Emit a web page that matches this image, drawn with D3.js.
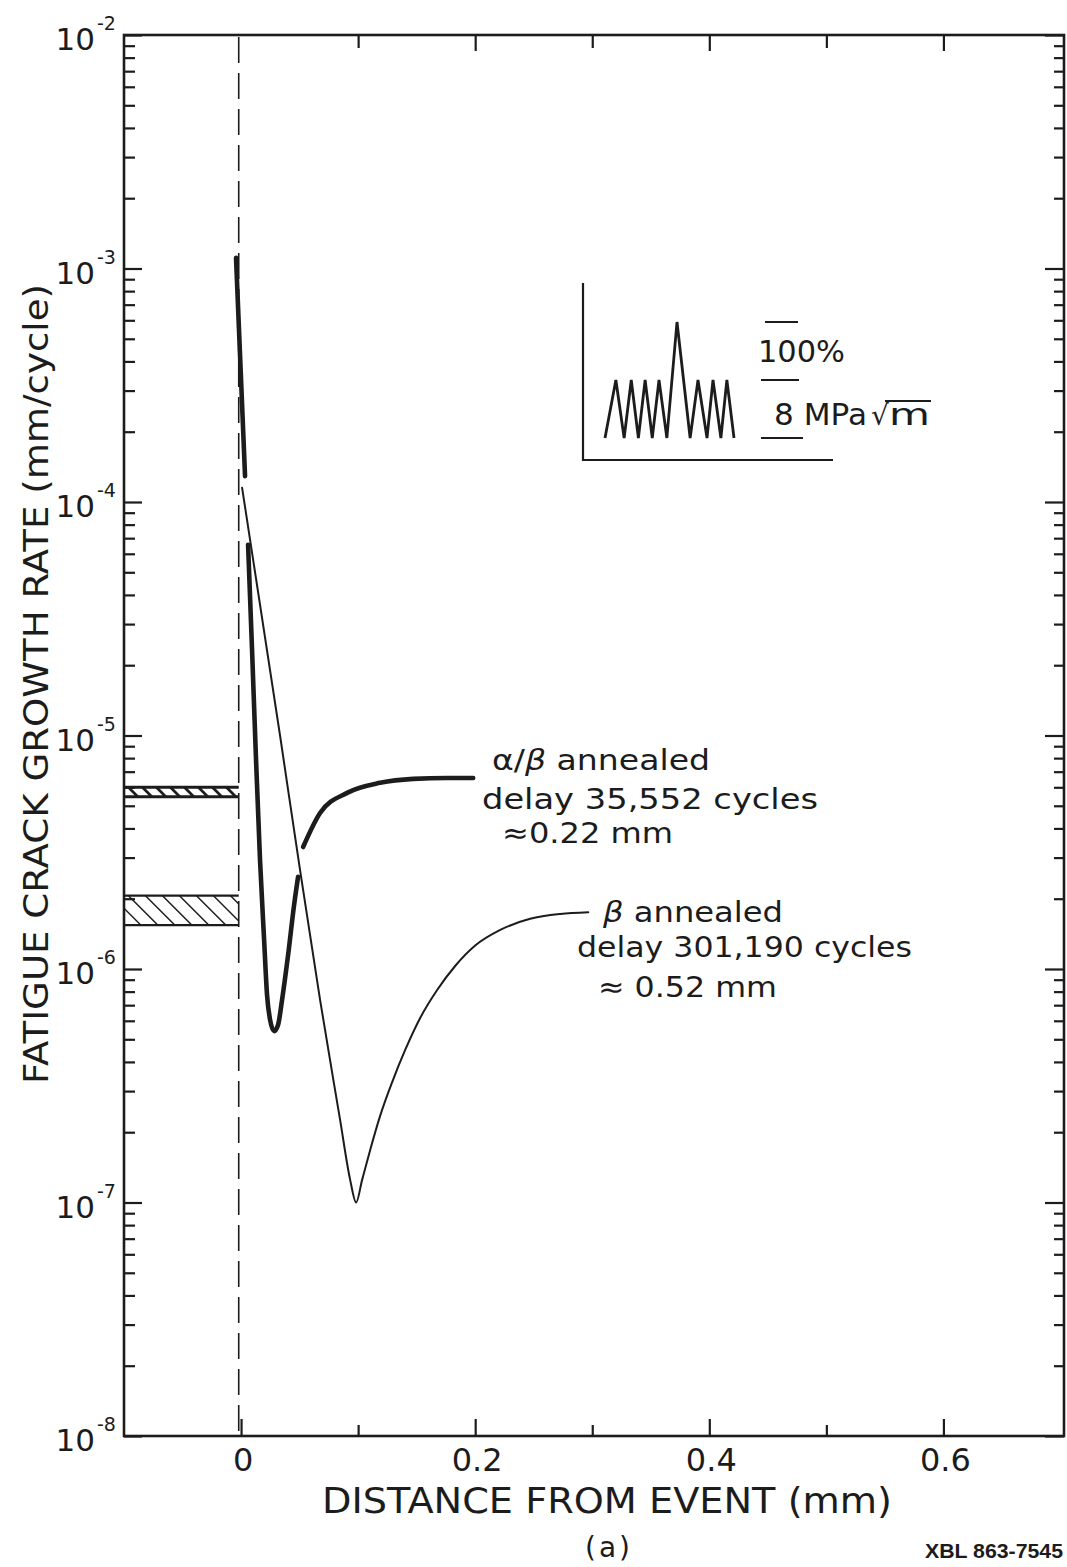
<!DOCTYPE html>
<html><head><meta charset="utf-8">
<script src="https://cdn.jsdelivr.net/npm/d3@7"></script>
<style>body{margin:0;background:#fff} svg{display:block}</style>
</head><body>
<svg id="c" width="1067" height="1567"></svg>
<script>
// ---------- data ----------
const xDomain = [-0.1, 0.703];
const yDomain = [1e-8, 1e-2];
const xMajorTicks = [0, 0.2, 0.4, 0.6];
const xMajorLabels = ["0", "0.2", "0.4", "0.6"];
const xMinorTicks = [0.1, 0.3, 0.5];
const yDecadeExponents = [-2, -3, -4, -5, -6, -7, -8];
const eventX = -0.002;

// alpha/beta annealed (thick curve), three drawn pieces
const alphaBetaSpike = [[-0.0043, 1.11e-3], [0.0034, 1.29e-4]];
const alphaBetaDip = [
  [0.0060, 6.55e-5], [0.0094, 2.32e-5], [0.0128, 7.85e-6], [0.0162, 2.93e-6],
  [0.0197, 1.33e-6], [0.0222, 7.74e-7], [0.0248, 6.05e-7], [0.0282, 5.42e-7],
  [0.0316, 5.76e-7], [0.0350, 7.36e-7], [0.0402, 1.15e-6], [0.0453, 1.88e-6],
  [0.0487, 2.48e-6]
];
const alphaBetaRecovery = [
  [0.0530, 3.33e-6], [0.0675, 4.66e-6], [0.0906, 5.68e-6], [0.1188, 6.27e-6],
  [0.1470, 6.52e-6], [0.1761, 6.58e-6], [0.1983, 6.58e-6]
];
// beta annealed (thin curve)
const betaCurve = [
  [0.0009, 1.15e-4], [0.0333, 1.0e-5], [0.0504, 2.65e-6], [0.0675, 7.37e-7],
  [0.0846, 2.26e-7], [0.0932, 1.25e-7], [0.0983, 1.0e-7], [0.1034, 1.25e-7],
  [0.1103, 1.68e-7], [0.1188, 2.35e-7], [0.1291, 3.28e-7], [0.1402, 4.50e-7],
  [0.1530, 6.17e-7], [0.1675, 8.13e-7], [0.1829, 1.03e-6], [0.2000, 1.26e-6],
  [0.2214, 1.47e-6], [0.2470, 1.64e-6], [0.2726, 1.72e-6], [0.2966, 1.75e-6]
];
// baseline (pre-event) scatter bands
const alphaBetaBand = [5.46e-6, 6.0e-6];
const betaBand = [1.54e-6, 2.06e-6];

// inset load spectrum (schematic): time units vs relative load
const insetTime = [0, 1.45, 2.55, 3.5, 4.45, 5.35, 6.3, 7.2, 8.25, 9.6, 11.35, 12.4, 13.6, 14.4, 15.45, 16.25, 17.2];
const insetLoad = [0, 1, 0, 1, 0, 1, 0, 1, 0, 2, 0, 1, 0, 1, 0, 1, 0];

// ---------- drawing ----------
const ink = "#1c1c1c";
const font = "DejaVu Sans, sans-serif";
const svg = d3.select("#c");
const defs = svg.append("defs");
const P = {left: 124, right: 1064, top: 35, bottom: 1436};
const x = d3.scaleLinear().domain(xDomain).range([P.left, P.right]);
const y = d3.scaleLog().domain(yDomain).range([P.bottom, P.top]);

function styleAxis(g, w) {
  g.select(".domain").remove();
  g.selectAll(".tick line").attr("stroke", ink).attr("stroke-width", w);
}

// axes ticks (inward)
const decades = yDecadeExponents.map(e => Math.pow(10, e));
const minorY = y.ticks().filter(v => Math.abs(Math.log10(v) - Math.round(Math.log10(v))) > 1e-6);

svg.append("g").attr("transform", `translate(0,${P.bottom})`)
  .call(d3.axisBottom(x).tickValues(xMajorTicks).tickSize(-17).tickFormat(""))
  .call(g => styleAxis(g, 2.2));
svg.append("g").attr("transform", `translate(0,${P.bottom})`)
  .call(d3.axisBottom(x).tickValues(xMinorTicks).tickSize(-11).tickFormat(""))
  .call(g => styleAxis(g, 2.2));
svg.append("g").attr("transform", `translate(0,${P.top})`)
  .call(d3.axisTop(x).tickValues(xMajorTicks.filter(v => v > 0)).tickSize(-16).tickFormat(""))
  .call(g => styleAxis(g, 2.2));
svg.append("g").attr("transform", `translate(0,${P.top})`)
  .call(d3.axisTop(x).tickValues(xMinorTicks).tickSize(-13).tickFormat(""))
  .call(g => styleAxis(g, 2.2));
svg.append("g").attr("transform", `translate(${P.left},0)`)
  .call(d3.axisLeft(y).tickValues(decades).tickSize(-18).tickFormat(""))
  .call(g => styleAxis(g, 2.2));
svg.append("g").attr("transform", `translate(${P.left},0)`)
  .call(d3.axisLeft(y).tickValues(minorY).tickSize(-11).tickFormat(""))
  .call(g => styleAxis(g, 2.2));
svg.append("g").attr("transform", `translate(${P.right},0)`)
  .call(d3.axisRight(y).tickValues(decades).tickSize(-19).tickFormat(""))
  .call(g => styleAxis(g, 2.2));
svg.append("g").attr("transform", `translate(${P.right},0)`)
  .call(d3.axisRight(y).tickValues(minorY).tickSize(-10).tickFormat(""))
  .call(g => styleAxis(g, 2.2));

// frame
svg.append("rect").attr("x", P.left).attr("y", P.top)
  .attr("width", P.right - P.left).attr("height", P.bottom - P.top)
  .attr("fill", "none").attr("stroke", ink).attr("stroke-width", 2.6);

// x tick labels
svg.append("g").selectAll("text").data(xMajorTicks).join("text")
  .attr("x", d => x(d) + 2).attr("y", 1471)
  .attr("text-anchor", "middle").attr("font-family", font).attr("font-size", 32)
  .attr("fill", ink).text((d, i) => xMajorLabels[i]);

// y tick labels 10^n
const yl = svg.append("g").attr("font-family", font).attr("fill", ink);
yl.selectAll("text.base").data(yDecadeExponents).join("text").attr("class", "base")
  .attr("x", 95).attr("y", d => y(Math.pow(10, d)) + 15)
  .attr("text-anchor", "end").attr("font-size", 31).text("10");
yl.selectAll("text.exp").data(yDecadeExponents).join("text").attr("class", "exp")
  .attr("x", 97).attr("y", d => y(Math.pow(10, d)) - 5)
  .attr("font-size", 19).text(d => "-" + Math.abs(d));

// axis titles
svg.append("text").attr("x", 322).attr("y", 1513)
  .attr("font-family", font).attr("font-size", 35).attr("fill", ink)
  .attr("textLength", 570).attr("lengthAdjust", "spacingAndGlyphs")
  .text("DISTANCE  FROM  EVENT (mm)");
svg.append("text").attr("transform", "translate(48,684) rotate(-90)")
  .attr("text-anchor", "middle").attr("font-family", font).attr("font-size", 34).attr("fill", ink)
  .attr("textLength", 800).attr("lengthAdjust", "spacingAndGlyphs")
  .text("FATIGUE CRACK GROWTH RATE (mm/cycle)");
svg.append("text").attr("x", 585).attr("y", 1557)
  .attr("font-family", font).attr("font-size", 28).attr("fill", ink)
  .attr("letter-spacing", 3).text("(a)");
svg.append("text").attr("x", 925).attr("y", 1558)
  .attr("font-family", "Liberation Sans, Arial, sans-serif").attr("font-weight", "bold")
  .attr("font-size", 21).attr("fill", ink)
  .attr("textLength", 138).attr("lengthAdjust", "spacingAndGlyphs").text("XBL 863-7545");

// event dashed line
svg.append("line").attr("x1", x(eventX)).attr("x2", x(eventX))
  .attr("y1", P.top + 2).attr("y2", P.bottom)
  .attr("stroke", ink).attr("stroke-width", 1.6).attr("stroke-dasharray", "26,10");

// hatched baseline bands
function band(range, id, spacing, hatchW, edgeW) {
  const x0 = x(xDomain[0]), x1 = x(eventX);
  const yTop = y(range[1]), yBot = y(range[0]);
  const h = yBot - yTop;
  defs.append("clipPath").attr("id", id).append("rect")
    .attr("x", x0).attr("y", yTop).attr("width", x1 - x0).attr("height", h);
  const g = svg.append("g").attr("clip-path", `url(#${id})`);
  const starts = d3.range(x0 - h, x1 + h, spacing);
  g.selectAll("line").data(starts).join("line")
    .attr("x1", d => d).attr("y1", yTop).attr("x2", d => d + h).attr("y2", yBot)
    .attr("stroke", ink).attr("stroke-width", hatchW);
  svg.append("g").selectAll("line").data([yTop, yBot]).join("line")
    .attr("x1", x0).attr("x2", x1).attr("y1", d => d).attr("y2", d => d)
    .attr("stroke", ink).attr("stroke-width", edgeW);
}
band(alphaBetaBand, "clipAB", 14, 2.8, 3);
band(betaBand, "clipB", 17, 1.5, 2.2);

// curves
const line = d3.line().x(d => x(d[0])).y(d => y(d[1])).curve(d3.curveMonotoneX);
const curves = [
  {d: alphaBetaSpike, w: 4.6},
  {d: alphaBetaDip, w: 4.6},
  {d: alphaBetaRecovery, w: 4.6},
  {d: betaCurve, w: 2.0}
];
svg.append("g").selectAll("path").data(curves).join("path")
  .attr("d", c => line(c.d)).attr("fill", "none").attr("stroke", ink)
  .attr("stroke-width", c => c.w).attr("stroke-linecap", "round").attr("stroke-linejoin", "round");

// annotations
function label(xp, yp, len, parts) {
  const t = svg.append("text").attr("x", xp).attr("y", yp)
    .attr("font-family", font).attr("font-size", 29).attr("fill", ink)
    .attr("textLength", len).attr("lengthAdjust", "spacingAndGlyphs");
  parts.forEach(p => t.append("tspan").attr("font-style", p[1] ? "italic" : null).text(p[0]));
}
label(492, 770, 218, [["α/", false], ["β", true], [" annealed", false]]);
label(482, 809, 336, [["delay 35,552 cycles", false]]);
label(502, 843, 171, [["≈0.22 mm", false]]);
label(603, 922, 180, [["β", true], [" annealed", false]]);
label(577, 957, 335, [["delay 301,190 cycles", false]]);
label(598, 997, 179, [["≈ 0.52 mm", false]]);

// inset: schematic load spectrum
const ix = d3.scaleLinear().domain([0, 17.2]).range([605, 734]);
const iy = d3.scaleLinear().domain([0, 2]).range([438, 322]);
const inset = svg.append("g");
inset.append("path").attr("d", "M583,283 L583,460 L833,460")
  .attr("fill", "none").attr("stroke", ink).attr("stroke-width", 2.2);
inset.append("path")
  .attr("d", d3.line().x((d, i) => ix(insetTime[i])).y(d => iy(d))(insetLoad))
  .attr("fill", "none").attr("stroke", ink).attr("stroke-width", 2.8).attr("stroke-linejoin", "miter");
const levelBars = [[2, 765, 798], [1, 761, 799], [0, 761, 803]];
inset.selectAll("line.lvl").data(levelBars).join("line").attr("class", "lvl")
  .attr("x1", d => d[1]).attr("x2", d => d[2]).attr("y1", d => iy(d[0])).attr("y2", d => iy(d[0]))
  .attr("stroke", ink).attr("stroke-width", 2);
inset.append("text").attr("x", 758).attr("y", 362).attr("font-family", font).attr("font-size", 30)
  .attr("fill", ink).attr("textLength", 87).attr("lengthAdjust", "spacingAndGlyphs").text("100%");
inset.append("text").attr("x", 774).attr("y", 425).attr("font-family", font).attr("font-size", 30)
  .attr("fill", ink).attr("textLength", 93).attr("lengthAdjust", "spacingAndGlyphs").text("8 MPa");
inset.append("text").attr("x", 871).attr("y", 425).attr("font-family", font).attr("font-size", 28)
  .attr("fill", ink).text("√");
inset.append("text").attr("x", 889).attr("y", 425).attr("font-family", font).attr("font-size", 30)
  .attr("fill", ink).attr("textLength", 41).attr("lengthAdjust", "spacingAndGlyphs").text("m");
inset.append("line").attr("x1", 885).attr("x2", 931).attr("y1", 401).attr("y2", 401)
  .attr("stroke", ink).attr("stroke-width", 2);
</script>
</body></html>
